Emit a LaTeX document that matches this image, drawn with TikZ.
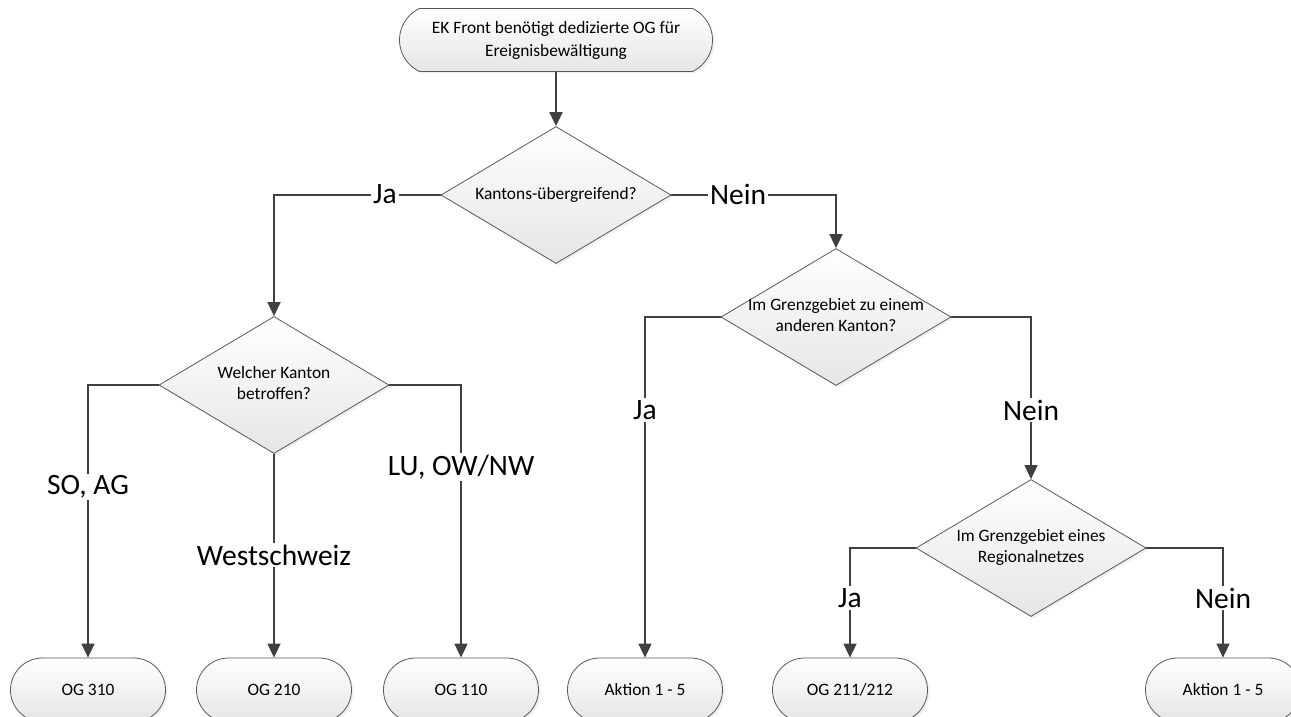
\documentclass[tikz,border=0pt]{standalone}
\usepackage{fontspec}
\setmainfont{Carlito}
\usetikzlibrary{shapes.geometric,shapes.misc,arrows.meta,shadows}

% question text inside a diamond, size taken from the diamond only
\newcommand{\qtext}[1]{\smash{\raisebox{-.25em}{\makebox[0pt]{\begin{tabular}{@{}c@{}}#1\end{tabular}}}}}

\tikzset{
  term/.style={rounded rectangle, draw=black!65, line width=.8pt,
    top color=white, bottom color=black!10,
    drop shadow={opacity=.12,shadow xshift=2pt,shadow yshift=-2pt},
    minimum width=155pt, minimum height=64pt, inner sep=0pt,
    align=center, font=\fontsize{17.4}{23}\selectfont},
  query/.style={diamond, draw=black!65, line width=.8pt,
    top color=white, bottom color=black!10,
    drop shadow={opacity=.12,shadow xshift=2pt,shadow yshift=-2pt},
    minimum width=230pt, minimum height=137pt, inner sep=0pt,
    font=\fontsize{17.4}{21}\selectfont},
  flow/.style={draw=black!75, line width=1.7pt, -{Triangle[length=14pt,width=13pt]}},
  answer/.style={fill=white, inner sep=2pt, font=\fontsize{29.5}{34}\selectfont},
}

\begin{document}
\begin{tikzpicture}[x=1pt,y=-1pt]
  \useasboundingbox (0,0) rectangle (1291,717);
  \clip (0,0) rectangle (1291,717);
  % start
  \node[term, minimum width=313pt, minimum height=63pt, rounded rectangle arc length=130]
    (start) at (556,40) {EK Front benötigt dedizierte OG für\\Ereignisbewältigung};
  % questions
  \node[query] (kant) at (556,195) {\qtext{Kantons-übergreifend?}};
  \node[query] (welch) at (274,385) {\qtext{Welcher Kanton\\betroffen?}};
  \node[query] (grenz) at (836,317) {\qtext{Im Grenzgebiet zu einem\\anderen Kanton?}};
  \node[query] (regio) at (1031,548) {\qtext{Im Grenzgebiet eines\\Regionalnetzes}};
  % results
  \node[term] (og310) at (88,690) {OG 310};
  \node[term] (og210) at (274,690) {OG 210};
  \node[term] (og110) at (461,690) {OG 110};
  \node[term] (akt1) at (645,690) {Aktion 1 - 5};
  \node[term] (og211) at (850,690) {OG 211/212};
  \node[term] (akt2) at (1223,690) {Aktion 1 - 5};
  % connectors
  \draw[flow] (start) -- (kant);
  \draw[flow] (kant.west) -| (welch.north);
  \draw[flow] (kant.east) -| (grenz.north);
  \draw[flow] (welch.west) -| (og310.north);
  \draw[flow] (welch.south) -- (og210.north);
  \draw[flow] (welch.east) -| (og110.north);
  \draw[flow] (grenz.west) -| (akt1.north);
  \draw[flow] (grenz.east) -| (regio.north);
  \draw[flow] (regio.west) -| (og211.north);
  \draw[flow] (regio.east) -| (akt2.north);
  % answers
  \node[answer] (ja1) at (385,194) {Ja};
  \node[answer] (nein1) at (738,194) {Nein};
  \node[answer] (soag) at (88,487) {SO, AG};
  \node[answer] (west) at (274,555) {Westschweiz};
  \node[answer] (luow) at (461,467) {LU, OW/NW};
  \node[answer] (ja2) at (645,410) {Ja};
  \node[answer] (nein2) at (1031,410) {Nein};
  \node[answer] (ja3) at (850,598) {Ja};
  \node[answer] (nein3) at (1223,598) {Nein};
\end{tikzpicture}
\end{document}
